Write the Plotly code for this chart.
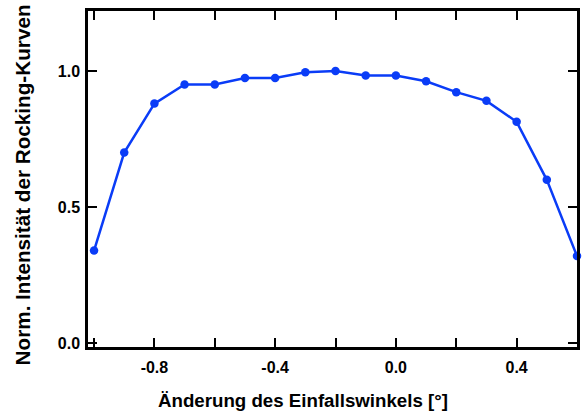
import plotly.graph_objects as go

# Rocking-curve intensity vs. change of incidence angle
angle = [-1.0, -0.9, -0.8, -0.7, -0.6, -0.5, -0.4, -0.3, -0.2, -0.1,
         0.0, 0.1, 0.2, 0.3, 0.4, 0.5, 0.6]
intensity = [0.34, 0.70, 0.88, 0.95, 0.95, 0.974, 0.974, 0.995, 1.0, 0.983,
             0.983, 0.962, 0.922, 0.89, 0.813, 0.60, 0.32]

x_tickvals = [-1.0, -0.8, -0.6, -0.4, -0.2, 0.0, 0.2, 0.4, 0.6]
x_ticktext = ["", "-0.8", "", "-0.4", "", "0.0", "", "0.4", ""]
y_tickvals = [0.0, 0.5, 1.0]
y_ticktext = ["0.0", "0.5", "1.0"]

x_title = "Änderung des Einfallswinkels [°]"
y_title = "Norm. Intensität der Rocking-Kurven"

blue = "#0a3cf7"
font_family = "Liberation Sans, Arial, sans-serif"

W, H = 582, 415
margin = dict(l=88, r=2, t=11, b=68)

fig = go.Figure(
    go.Scatter(
        x=angle,
        y=intensity,
        mode="lines+markers",
        line=dict(color=blue, width=2.5),
        marker=dict(color=blue, size=8.5, symbol="circle"),
        cliponaxis=False,
    )
)

axis_common = dict(
    showline=True,
    linecolor="black",
    linewidth=2.5,
    mirror="ticks",
    ticks="inside",
    ticklen=9,
    tickwidth=2,
    tickcolor="black",
    showgrid=False,
    zeroline=False,
    tickfont=dict(family=font_family, size=16, color="black", weight=700),
)

fig.update_xaxes(
    range=[-1.02, 0.6],
    tickvals=x_tickvals,
    ticktext=x_ticktext,
    ticklabelstandoff=4,
    **axis_common,
)
fig.update_yaxes(
    range=[-0.014, 1.22],
    tickvals=y_tickvals,
    ticktext=y_ticktext,
    ticklabelstandoff=2,
    **axis_common,
)

# Axis titles placed as paper-anchored annotations
plot_w = W - margin["l"] - margin["r"]
plot_h = H - margin["t"] - margin["b"]
fig.add_annotation(
    text=x_title, showarrow=False,
    xref="paper", yref="paper",
    x=(304 - margin["l"]) / plot_w, y=-(400 - (H - margin["b"])) / plot_h,
    xanchor="center", yanchor="middle",
    font=dict(family=font_family, size=18.7, color="black", weight=700),
)
fig.add_annotation(
    text=y_title, showarrow=False, textangle=-90,
    xref="paper", yref="paper",
    x=-(margin["l"] - 23) / plot_w, y=(H - margin["b"] - 185) / plot_h,
    xanchor="center", yanchor="middle",
    font=dict(family=font_family, size=20.7, color="black", weight=700),
)

fig.update_layout(
    width=W,
    height=H,
    margin=margin,
    paper_bgcolor="white",
    plot_bgcolor="white",
    showlegend=False,
)

fig.write_html("out.html")
